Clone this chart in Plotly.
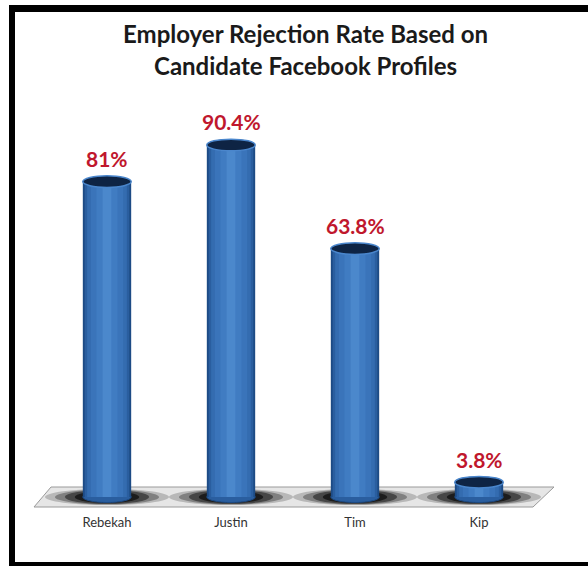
import plotly.graph_objects as go

categories = ["Rebekah", "Justin", "Tim", "Kip"]
values = [81, 90.4, 63.8, 3.8]
value_labels = ["81%", "90.4%", "63.8%", "3.8%"]
title_lines = ["Employer Rejection Rate Based on", "Candidate Facebook Profiles"]

W, H = 588, 566
ML, MR, MT, MB = 45, 47, 100, 61
PW, PH = W - ML - MR, H - MT - MB


def px(x):
    return (x - ML) / PW


def py(y):
    return (H - MB - y) / PH


fig = go.Figure()

# layered bars to fake cylinder shading
layers = [(0.39, "#1d4b85"), (0.36, "#2a5e9f"), (0.32, "#346cb0"),
          (0.26, "#3a74ba"), (0.17, "#407cc2"), (0.07, "#4b88cc")]
for w, c in layers:
    fig.add_trace(go.Bar(x=categories, y=values, width=w, marker_color=c,
                         marker_line_width=0, hoverinfo="skip", showlegend=False))

shapes = []
# floor parallelogram
shapes.append(dict(type="path", xref="paper", yref="paper", layer="below",
                   path=f"M {px(51)} {py(487)} L {px(554)} {py(487)} L {px(533)} {py(507)} L {px(34)} {py(507)} Z",
                   fillcolor="#e6e6e6", line=dict(color="#9a9a9a", width=1)))
# soft shadows around each bar
for i, cat in enumerate(categories):
    for k, (dx, dy, op) in enumerate([(0.5, 8, 0.2), (0.42, 7.5, 0.3), (0.34, 7, 0.45), (0.26, 6, 0.6)]):
        shapes.append(dict(type="circle", xref="x", yref="paper", layer="below",
                           x0=i - dx, x1=i + dx, y0=py(497 + dy), y1=py(497 - dy),
                           fillcolor=f"rgba(0,0,0,{op})", line_width=0))
    # rounded bottom of cylinder
    shapes.append(dict(type="circle", xref="x", yref="y", layer="below",
                       x0=i - 0.195, x1=i + 0.195, y0=-1.4, y1=1.4,
                       fillcolor="#2a5e9f", line=dict(color="#1d4b85", width=1)))
    # top cap
    v = values[i]
    shapes.append(dict(type="circle", xref="x", yref="y", layer="above",
                       x0=i - 0.195, x1=i + 0.195, y0=v - 1.5, y1=v + 1.5,
                       fillcolor="#0e2444", line=dict(color="#4a86cc", width=1.5)))

# frame
shapes.append(dict(type="rect", xref="paper", yref="paper", x0=px(9), x1=px(15), y0=py(566), y1=py(5),
                   fillcolor="black", line_width=0))
shapes.append(dict(type="rect", xref="paper", yref="paper", x0=px(9), x1=px(588), y0=py(12), y1=py(5),
                   fillcolor="black", line_width=0))
shapes.append(dict(type="rect", xref="paper", yref="paper", x0=px(9), x1=px(588), y0=py(566), y1=py(562),
                   fillcolor="black", line_width=0))

annotations = []
for cat, v, lab in zip(categories, values, value_labels):
    annotations.append(dict(x=cat, y=v, xref="x", yref="y", text=lab, showarrow=False,
                            yshift=23, yanchor="middle",
                            font=dict(family="Lato", size=21, color="#c0172d", weight="bold")))
for j, line in enumerate(title_lines):
    annotations.append(dict(x=px(305), y=py(33 + 32 * j), xref="paper", yref="paper", text=line,
                            showarrow=False, xanchor="center", yanchor="middle",
                            font=dict(family="Lato", size=24, color="#1a1a1a", weight="bold")))

fig.update_layout(
    width=W, height=H,
    margin=dict(l=ML, r=MR, t=MT, b=MB),
    barmode="overlay",
    paper_bgcolor="white", plot_bgcolor="white",
    shapes=shapes, annotations=annotations,
    xaxis=dict(showgrid=False, zeroline=False, showline=False, ticks="",
               tickfont=dict(family="Lato", size=13, color="#333333"), ticklabelstandoff=8),
    yaxis=dict(range=[-2.05, 101.95], visible=False),
)

fig.write_html("out.html")
